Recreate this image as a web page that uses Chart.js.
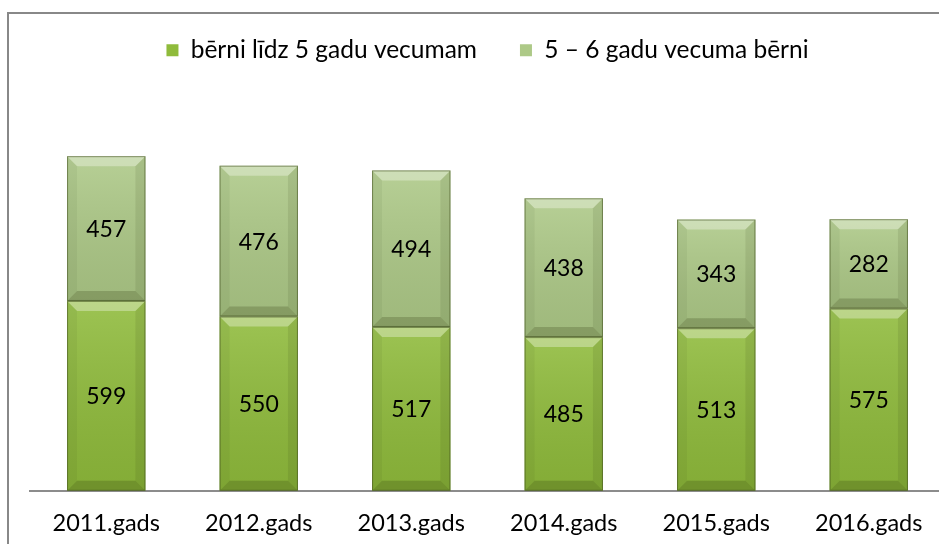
<!DOCTYPE html>
<html><head><meta charset="utf-8">
<script src="https://cdn.jsdelivr.net/npm/chart.js@4.4.1/dist/chart.umd.min.js"></script>
<style>
html,body{margin:0;padding:0;overflow:hidden;background:#fff;width:939px;height:544px}
#wrap{position:absolute;left:0;top:0;width:945px;height:544px}
</style>
</head><body>
<div id="wrap"><canvas id="c"></canvas></div>
<script>
const categories = ['2011.gads','2012.gads','2013.gads','2014.gads','2015.gads','2016.gads'];
const under5 = [599, 550, 517, 485, 513, 575];
const age5to6 = [457, 476, 494, 438, 343, 282];
const seriesNames = ['bērni līdz 5 gadu vecumam', '5 – 6 gadu vecuma bērni'];

const FONT = 'Lato';

const frame = {
  id: 'frame',
  beforeDraw(chart) {
    const ctx = chart.ctx;
    ctx.save();
    ctx.strokeStyle = '#888888';
    ctx.lineWidth = 2;
    ctx.strokeRect(8, 13, 2000, 2000);
    ctx.restore();
  }
};

const bevel = {
  id: 'bevel',
  afterDatasetsDraw(chart) {
    const ctx = chart.ctx;
    ctx.save();
    chart.data.datasets.forEach((ds, di) => {
      const meta = chart.getDatasetMeta(di);
      if (meta.hidden) return;
      meta.data.forEach(el => {
        const p = el.getProps(['x','y','base','width'], true);
        const l = p.x - p.width/2, r = p.x + p.width/2;
        const t = Math.min(p.y, p.base), b = Math.max(p.y, p.base);
        const bv = Math.min(10, (b - t)/2, p.width/2);
        const g = ctx.createLinearGradient(0, t, 0, b);
        g.addColorStop(0, 'rgba(255,255,255,0.12)');
        g.addColorStop(1, 'rgba(0,0,0,0.08)');
        ctx.fillStyle = g;
        ctx.fillRect(l, t, r - l, b - t);
        ctx.fillStyle = 'rgba(255,255,255,0.32)';
        ctx.beginPath(); ctx.moveTo(l, t); ctx.lineTo(r, t); ctx.lineTo(r - bv, t + bv); ctx.lineTo(l + bv, t + bv); ctx.closePath(); ctx.fill();
        ctx.fillStyle = 'rgba(40,50,10,0.22)';
        ctx.beginPath(); ctx.moveTo(l, b); ctx.lineTo(r, b); ctx.lineTo(r - bv, b - bv); ctx.lineTo(l + bv, b - bv); ctx.closePath(); ctx.fill();
        ctx.fillStyle = 'rgba(40,50,10,0.06)';
        ctx.beginPath(); ctx.moveTo(l, t); ctx.lineTo(l + bv, t + bv); ctx.lineTo(l + bv, b - bv); ctx.lineTo(l, b); ctx.closePath(); ctx.fill();
        ctx.fillStyle = 'rgba(40,50,10,0.10)';
        ctx.beginPath(); ctx.moveTo(r, t); ctx.lineTo(r - bv, t + bv); ctx.lineTo(r - bv, b - bv); ctx.lineTo(r, b); ctx.closePath(); ctx.fill();
        ctx.strokeStyle = 'rgba(60,75,25,0.55)';
        ctx.lineWidth = 1;
        ctx.strokeRect(l + 0.5, t + 0.5, r - l - 1, b - t - 1);
      });
    });
    ctx.restore();
  }
};

const labels = {
  id: 'valueLabels',
  afterDatasetsDraw(chart) {
    const ctx = chart.ctx;
    ctx.save();
    ctx.font = '23px ' + FONT;
    ctx.fillStyle = '#000';
    ctx.textAlign = 'center';
    ctx.textBaseline = 'middle';
    chart.data.datasets.forEach((ds, di) => {
      const meta = chart.getDatasetMeta(di);
      meta.data.forEach((el, i) => {
        const p = el.getProps(['x','y','base'], true);
        ctx.fillText(String(ds.data[i]), p.x, (p.y + p.base)/2 + 1);
      });
    });
    ctx.restore();
  }
};

new Chart(document.getElementById('c'), {
  type: 'bar',
  data: {
    labels: categories,
    datasets: [
      { label: seriesNames[0], data: under5, backgroundColor: '#8fbb3b', borderWidth: 0 },
      { label: seriesNames[1], data: age5to6, backgroundColor: '#adc987', borderWidth: 0 }
    ]
  },
  options: {
    responsive: true,
    maintainAspectRatio: false,
    animation: false,
    devicePixelRatio: 1,
    layout: { padding: { left: 30, right: 0, top: -5, bottom: -13 } },
    datasets: { bar: { categoryPercentage: 1, barPercentage: 0.514 } },
    plugins: {
      legend: {
        position: 'top',
        labels: {
          boxWidth: 12, boxHeight: 12, padding: 43,
          color: '#000',
          font: { family: FONT, size: 24.5 }
        }
      },
      tooltip: { enabled: false }
    },
    scales: {
      x: {
        stacked: true,
        grid: { display: false, drawTicks: false },
        border: { display: true, color: '#8c8c8c', width: 2 },
        ticks: { color: '#000', font: { family: FONT, size: 23.5 }, padding: 19, maxRotation: 0 }
      },
      y: {
        stacked: true,
        display: false,
        min: 0,
        max: 1320
      }
    }
  },
  plugins: [frame, bevel, labels]
});
</script>
</body></html>
